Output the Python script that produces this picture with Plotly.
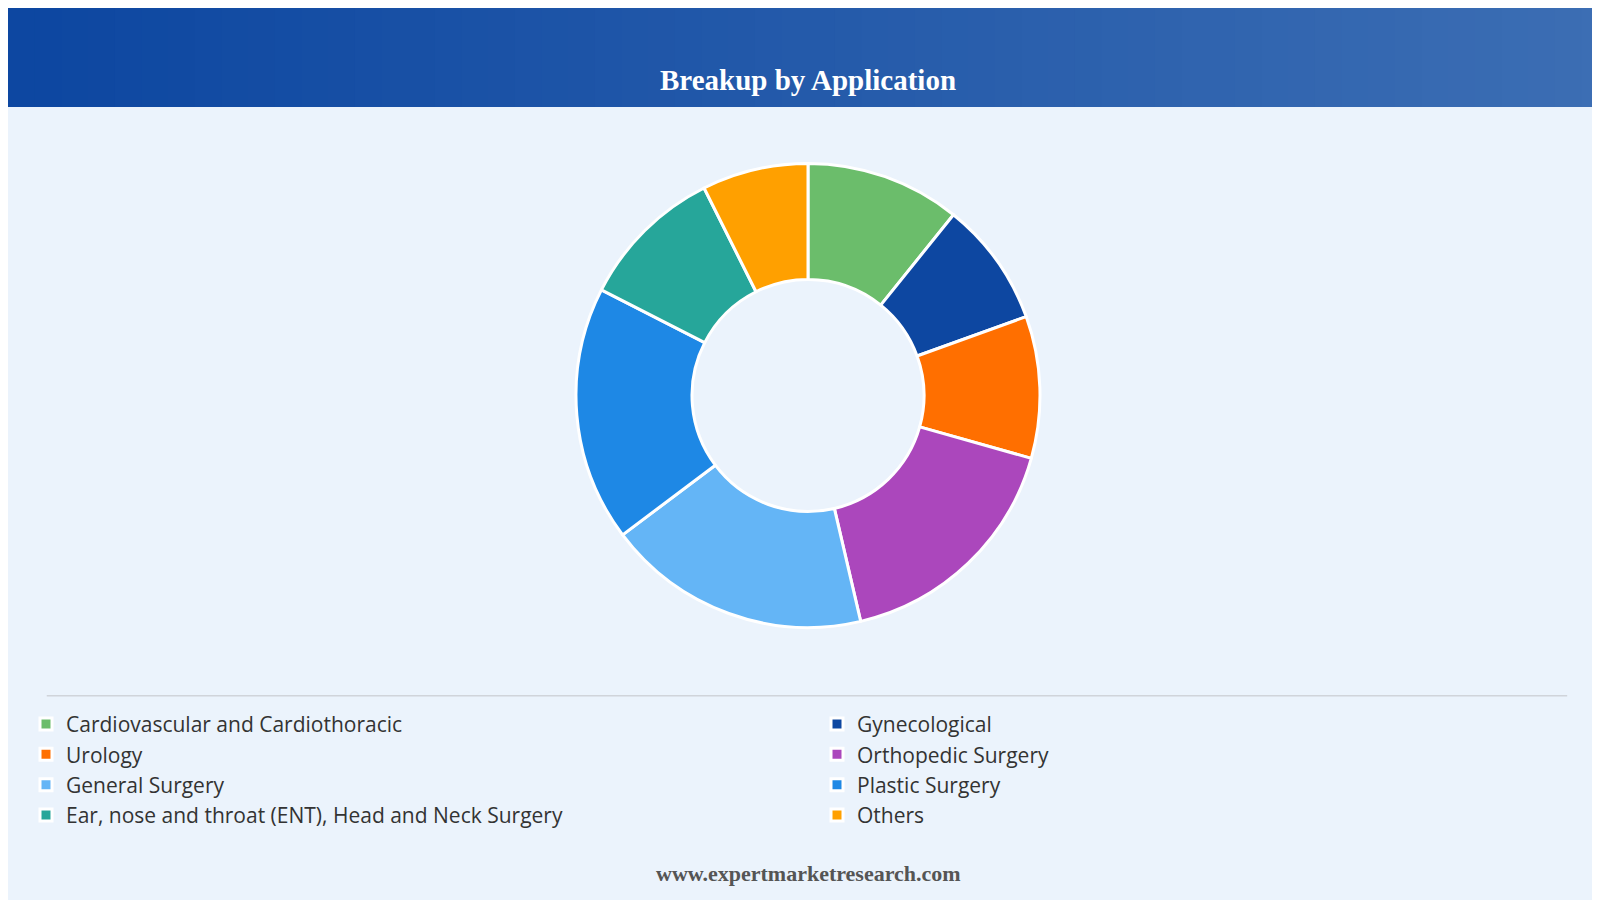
import plotly.graph_objects as go

labels = ["Cardiovascular and Cardiothoracic", "Gynecological", "Urology", "Orthopedic Surgery",
          "General Surgery", "Plastic Surgery", "Ear, nose and throat (ENT), Head and Neck Surgery", "Others"]
values = [10.8, 8.7, 9.9, 17.0, 18.4, 17.8, 10.1, 7.4]
colors = ["#6BBD6B", "#0D47A1", "#FF6F00", "#AB47BC", "#64B5F6", "#1E88E5", "#26A69A", "#FFA000"]

fig = go.Figure(go.Pie(
    labels=labels, values=values, sort=False, direction="clockwise", hole=0.5,
    marker=dict(colors=colors, line=dict(color="white", width=3)),
    textinfo="none", hoverinfo="label+percent",
    domain=dict(x=[0.355, 0.645], y=[0.311, 0.828]),
))

shapes = []
n = 60
c0 = (13, 71, 161); c1 = (60, 110, 180)
for i in range(n):
    t = i / (n - 1)
    c = tuple(int(c0[k] + (c1[k] - c0[k]) * t) for k in range(3))
    shapes.append(dict(type="rect", xref="paper", yref="paper", x0=i / n, x1=(i + 1) / n + 0.002,
                       y0=1 - 97 / 882, y1=1, fillcolor="rgb(%d,%d,%d)" % c, line=dict(width=0), layer="below"))
shapes.append(dict(type="line", xref="paper", yref="paper", x0=38 / 1568, x1=1528 / 1568,
                   y0=1 - 674 / 882, y1=1 - 674 / 882, line=dict(color="#D0D4DA", width=1.5)))

fig.update_layout(
    width=1600, height=900, margin=dict(l=0, r=0, t=0, b=0),
    paper_bgcolor="#EBF3FC", plot_bgcolor="#EBF3FC",
    shapes=shapes,
    annotations=[
        dict(text="<b>Breakup by Application</b>", x=0.5, y=1 - 53 / 882, xref="paper", yref="paper",
             showarrow=False, font=dict(family="Liberation Serif", size=29, color="white")),
        dict(text="<b>www.expertmarketresearch.com</b>", x=0.5, y=1 - 862 / 882, xref="paper", yref="paper",
             showarrow=False, font=dict(family="Liberation Serif", size=22, color="#555555")),
    ],
    legend=dict(orientation="h", x=32 / 1568, y=1 - 682 / 882, xanchor="left", yanchor="top",
                entrywidth=746, entrywidthmode="pixels", traceorder="normal",
                font=dict(family="Open Sans", size=21, color="#333333"), bgcolor="rgba(0,0,0,0)",
                itemwidth=30),
)
fig.write_html("out.html")
